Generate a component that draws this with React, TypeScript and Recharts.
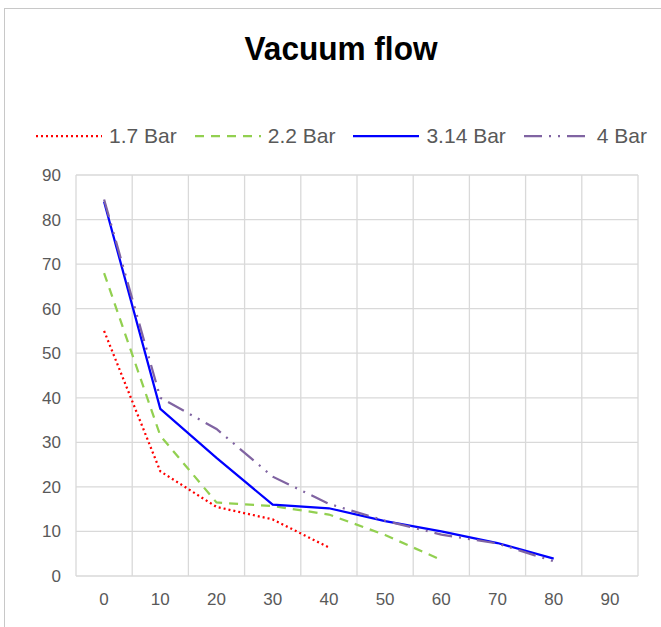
import React from 'react';
import { LineChart, Line, XAxis, YAxis, CartesianGrid, ReferenceLine, Legend } from 'recharts';

// values
const xValues = [0, 10, 20, 30, 40, 50, 60, 70, 80];
const bar17 = [55, 23.5, 15.5, 12.7, 6.4];
const bar22 = [68, 31.5, 16.5, 15.7, 13.8, 9.2, 3.6];
const bar314 = [84, 37.5, 26.5, 16, 15.2, 12.3, 10, 7.4, 3.9];
const bar4 = [84.5, 40, 33, 22.3, 16.2, 12.4, 9.3, 7.3, 3.3];

const xTicks = [0, 10, 20, 30, 40, 50, 60, 70, 80, 90];
const yTicks = [0, 10, 20, 30, 40, 50, 60, 70, 80, 90];

const SERIES = [
    { key: 'b17', name: '1.7 Bar', color: '#ff0000', dash: '2 3', values: bar17 },
    { key: 'b22', name: '2.2 Bar', color: '#92d050', dash: '9 7', values: bar22 },
    { key: 'b314', name: '3.14 Bar', color: '#0000ff', dash: undefined, values: bar314 },
    { key: 'b4', name: '4 Bar', color: '#8064a2', dash: '18 7 2 7 2 7', values: bar4 },
];

const data = xValues.map((x, i) => {
    const row: any = { x };
    SERIES.forEach((s) => {
        row[s.key] = i < s.values.length ? s.values[i] : null;
    });
    return row;
});

// vertical grid lines sit between the category labels
const gridX = [...xTicks.map((t) => t - 5), 95];

const FONT = '"Liberation Sans", Arial, sans-serif';
const GRID = '#d9d9d9';
const TEXT = '#595959';

const renderLegend = () => (
    <div style={{ display: 'flex', alignItems: 'center', gap: 18 }}>
        {SERIES.map((s) => (
            <div key={s.key} style={{ display: 'flex', alignItems: 'center', gap: 7 }}>
                <svg width={66} height={10}>
                    <line
                        x1={0}
                        y1={5}
                        x2={66}
                        y2={5}
                        stroke={s.color}
                        strokeWidth={2.25}
                        strokeDasharray={s.dash}
                    />
                </svg>
                <span style={{ fontSize: 21, color: TEXT, fontFamily: FONT }}>{s.name}</span>
            </div>
        ))}
    </div>
);

export default function App() {
    return (
        <div
            style={{
                position: 'absolute',
                left: 0,
                top: 0,
                width: 661,
                height: 627,
                overflow: 'hidden',
                background: '#fff',
                fontFamily: FONT,
            }}
        >
            <div
                style={{
                    position: 'absolute',
                    left: 4,
                    top: 8,
                    width: 720,
                    height: 720,
                    border: '1px solid #c8c8c8',
                }}
            />
            <svg style={{ position: 'absolute', left: 0, top: 0 }} width={661} height={80}>
                <text
                    x={341}
                    y={60}
                    textAnchor="middle"
                    fontSize={33}
                    fontWeight="bold"
                    fill="#000"
                    fontFamily={FONT}
                    textLength={193}
                    lengthAdjust="spacingAndGlyphs"
                >
                    Vacuum flow
                </text>
            </svg>
            <div style={{ position: 'absolute', left: 0, top: 0 }}>
                <LineChart
                    width={661}
                    height={627}
                    data={data}
                    margin={{ top: 175, right: 23, left: 16, bottom: 11 }}
                >
                    <CartesianGrid horizontal vertical={false} stroke={GRID} strokeWidth={1.3} />
                    {gridX.map((gx) => (
                        <ReferenceLine key={gx} x={gx} stroke={GRID} strokeWidth={1.3} />
                    ))}
                    <XAxis
                        type="number"
                        dataKey="x"
                        domain={[-5, 95]}
                        ticks={xTicks}
                        allowDataOverflow
                        axisLine={false}
                        tickLine={false}
                        tickMargin={11}
                        height={40}
                        tick={{ fill: TEXT, fontSize: 17, fontFamily: FONT }}
                    />
                    <YAxis
                        domain={[0, 90]}
                        ticks={yTicks}
                        axisLine={false}
                        tickLine={false}
                        tickMargin={9}
                        width={60}
                        tick={{ fill: TEXT, fontSize: 17, fontFamily: FONT }}
                    />
                    <Legend
                        layout="horizontal"
                        verticalAlign="middle"
                        content={renderLegend}
                        wrapperStyle={{ top: 124, left: 36, width: 'auto' }}
                    />
                    {SERIES.map((s) => (
                        <Line
                            key={s.key}
                            type="linear"
                            dataKey={s.key}
                            name={s.name}
                            stroke={s.color}
                            strokeWidth={2.25}
                            strokeDasharray={s.dash}
                            dot={false}
                            activeDot={false}
                            isAnimationActive={false}
                        />
                    ))}
                </LineChart>
            </div>
        </div>
    );
}
